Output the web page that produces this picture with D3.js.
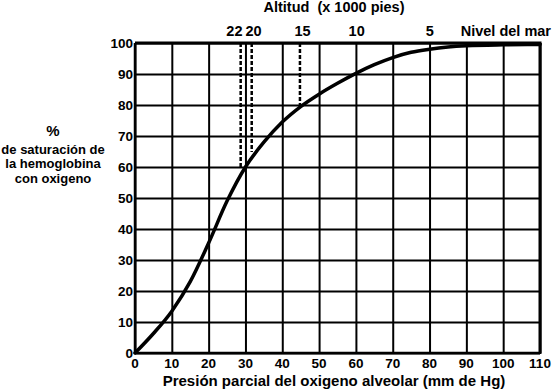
<!DOCTYPE html>
<html>
<head>
<meta charset="utf-8">
<script src="https://cdn.jsdelivr.net/npm/d3@7"></script>
<style>
    body { margin: 0; background: #fff; }
    svg text { font-family: "Liberation Sans", Arial, sans-serif; font-weight: bold; fill: #000; }
</style>
</head>
<body>
<svg id="chart" width="552" height="390"></svg>
<script>

/*    ========    DATA    =========    */

// Oxygen dissociation curve: pressure [mm Hg] vs saturation [%]
var pressure   = [0, 5, 10, 15, 20, 25, 30, 35, 40, 45, 50, 55, 60, 65, 70, 75, 80, 85, 90, 100, 110];
var saturation = [0, 6.3, 13.5, 23, 35.5, 49, 60, 68, 74.5, 79.5, 83.5, 87, 90.2, 93, 95.3, 97, 98, 98.7, 99.1, 99.4, 99.5];

// Altitude markers (dashed lines from top down to the curve)
var altLabels   = ["22", "20", "15"];
var altPressure = [28.7, 31.7, 44.8];
var altSat      = [59.5, 64.8, 79.5];

// Altitude labels along the top
var topLabels   = ["22", "20", "15", "10", "5"];
var topPressure = [27, 32.2, 45.5, 60.2, 80.1];

var xTicks = d3.range(0, 111, 10);
var yTicks = d3.range(0, 101, 10);

/*    ========    SETTINGS    =========    */

var svg = d3.select("#chart");

var LEFT = 135, RIGHT = 540, TOP = 43, BOTTOM = 353;

var scale_x = d3.scaleLinear().domain([0, 110]).range([LEFT, RIGHT]);
var scale_y = d3.scaleLinear().domain([0, 100]).range([BOTTOM, TOP]);

/*    ========    GRID    =========    */

svg.append("g")
    .attr("class", "grid")
    .attr("transform", "translate(0," + BOTTOM + ")")
    .call(d3.axisBottom(scale_x).tickValues(xTicks).tickSize(-(BOTTOM - TOP)).tickFormat(""))
    .call(function(g) { g.select(".domain").remove(); })
    .selectAll("line").attr("stroke", "#000").attr("stroke-width", 2);

svg.append("g")
    .attr("class", "grid")
    .attr("transform", "translate(" + LEFT + ",0)")
    .call(d3.axisLeft(scale_y).tickValues(yTicks).tickSize(-(RIGHT - LEFT)).tickFormat(""))
    .call(function(g) { g.select(".domain").remove(); })
    .selectAll("line").attr("stroke", "#000").attr("stroke-width", 2);

// thicker frame on top and right
svg.append("line")
    .attr("x1", LEFT).attr("x2", RIGHT + 1.5)
    .attr("y1", TOP).attr("y2", TOP)
    .attr("stroke", "#000").attr("stroke-width", 3);
svg.append("line")
    .attr("x1", RIGHT).attr("x2", RIGHT)
    .attr("y1", TOP).attr("y2", BOTTOM + 1)
    .attr("stroke", "#000").attr("stroke-width", 3);
svg.append("line")
    .attr("x1", LEFT).attr("x2", LEFT)
    .attr("y1", TOP).attr("y2", BOTTOM + 1)
    .attr("stroke", "#000").attr("stroke-width", 2.5);
svg.append("line")
    .attr("x1", LEFT).attr("x2", RIGHT)
    .attr("y1", BOTTOM).attr("y2", BOTTOM)
    .attr("stroke", "#000").attr("stroke-width", 2.5);

/*    ========    TICK LABELS    =========    */

svg.append("g").selectAll("text")
    .data(xTicks)
    .enter().append("text")
    .attr("x", function(d) { return scale_x(d); })
    .attr("y", 368)
    .attr("text-anchor", "middle")
    .style("font-size", "13.5px")
    .text(function(d) { return d; });

svg.append("g").selectAll("text")
    .data(yTicks)
    .enter().append("text")
    .attr("x", LEFT - 2)
    .attr("y", function(d) { return scale_y(d) + 5; })
    .attr("text-anchor", "end")
    .style("font-size", "13.5px")
    .text(function(d) { return d; });

/*    ========    ALTITUDE MARKERS    =========    */

svg.append("g").selectAll("line")
    .data(altPressure)
    .enter().append("line")
    .attr("x1", function(d) { return scale_x(d); })
    .attr("x2", function(d) { return scale_x(d); })
    .attr("y1", scale_y(100))
    .attr("y2", function(d, i) { return scale_y(altSat[i]); })
    .attr("stroke", "#000")
    .attr("stroke-width", 2.5)
    .attr("stroke-dasharray", "4,2");

svg.append("g").selectAll("text")
    .data(topLabels)
    .enter().append("text")
    .attr("x", function(d, i) { return scale_x(topPressure[i]); })
    .attr("y", 36)
    .attr("text-anchor", "middle")
    .style("font-size", "14.5px")
    .text(function(d) { return d; });

svg.append("text")
    .attr("x", 551)
    .attr("y", 36)
    .attr("text-anchor", "end")
    .style("font-size", "14.5px")
    .text("Nivel del mar");

svg.append("text")
    .attr("x", 334)
    .attr("y", 12)
    .attr("text-anchor", "middle")
    .style("font-size", "14.5px")
    .style("white-space", "pre")
    .attr("xml:space", "preserve")
    .text("Altitud  (x 1000 pies)");

/*    ========    CURVE    =========    */

var data = pressure.map(function(p, i) { return { p: p, s: saturation[i] }; });

var line = d3.line()
    .x(function(d) { return scale_x(d.p); })
    .y(function(d) { return scale_y(d.s); })
    .curve(d3.curveMonotoneX);

svg.append("path")
    .datum(data)
    .attr("d", line)
    .attr("fill", "none")
    .attr("stroke", "#000")
    .attr("stroke-width", 3.5)
    .attr("stroke-linecap", "round");

/*    ========    AXIS TITLES    =========    */

svg.append("text")
    .attr("x", 334)
    .attr("y", 386)
    .attr("text-anchor", "middle")
    .style("font-size", "15px")
    .text("Presión parcial del oxigeno alveolar (mm de Hg)");

var yTitle = ["%", "de saturación de", "la hemoglobina", "con oxigeno"];

svg.append("g").selectAll("text")
    .data(yTitle)
    .enter().append("text")
    .attr("x", 53)
    .attr("y", function(d, i) { return i === 0 ? 136 : 139 + i * 14.5; })
    .attr("text-anchor", "middle")
    .style("font-size", function(d, i) { return i === 0 ? "15px" : "13px"; })
    .text(function(d) { return d; });

</script>
</body>
</html>
